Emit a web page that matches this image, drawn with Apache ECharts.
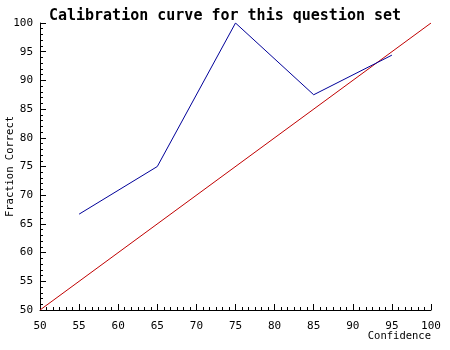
<!DOCTYPE html>
<html>
<head>
<meta charset="utf-8">
<script src="https://cdn.jsdelivr.net/npm/echarts@6/dist/echarts.min.js"></script>
<style>html,body{margin:0;padding:0;background:#fff}#c{width:450px;height:350px}</style>
</head>
<body>
<div id="c"></div>
<script>
const titleText = 'Calibration curve for this question set';
const xName = 'Confidence';
const yName = 'Fraction Correct';
const observedX = [55, 65, 75, 85, 95];
const observedY = [66.7, 75, 100, 87.5, 94.4];
const idealX = [50, 100];
const idealY = [50, 100];

const font = 'DejaVu Sans Mono';
const chart = echarts.init(document.getElementById('c'), null, {renderer: 'canvas'});
const axisCommon = {
  min: 50, max: 100, interval: 5,
  axisLine: {onZero: false, lineStyle: {color: '#000', width: 1}},
  axisTick: {inside: true, length: 6, lineStyle: {color: '#000'}},
  splitLine: {show: false},
  axisLabel: {color: '#000', fontFamily: font, fontSize: 11}
};
chart.setOption({
  animation: false,
  backgroundColor: '#fff',
  title: {
    text: titleText, left: 'center', top: 4,
    textStyle: {fontFamily: font, fontSize: 15, fontWeight: 'bold', color: '#000'}
  },
  grid: {left: 40, right: 19, top: 23, bottom: 40, containLabel: false, outerBoundsMode: 'none'},
  xAxis: Object.assign({}, axisCommon, {
    type: 'value',
    minorTick: {show: true, splitNumber: 6, length: 3, lineStyle: {color: '#000'}},
    axisLabel: Object.assign({}, axisCommon.axisLabel, {margin: 11}),
    name: xName, nameLocation: 'end', nameGap: 0, nameMoveOverlap: false,
    nameTextStyle: {fontFamily: font, fontSize: 10.5, color: '#000', align: 'right', verticalAlign: 'top', padding: [21, 0, 0, 0]}
  }),
  yAxis: Object.assign({}, axisCommon, {
    type: 'value',
    minorTick: {show: true, splitNumber: 5, length: 3, lineStyle: {color: '#000'}},
    axisLabel: Object.assign({}, axisCommon.axisLabel, {margin: 7}),
    name: yName, nameLocation: 'middle', nameGap: 24, nameRotate: 90, nameMoveOverlap: false,
    nameTextStyle: {fontFamily: font, fontSize: 10.5, color: '#000'}
  }),
  series: [
    {
      type: 'line', data: idealX.map((x, i) => [x, idealY[i]]),
      symbol: 'none', lineStyle: {color: '#c00000', width: 1}, z: 2
    },
    {
      type: 'line', data: observedX.map((x, i) => [x, observedY[i]]),
      symbol: 'none', lineStyle: {color: '#000099', width: 1}, z: 3
    }
  ]
});
</script>
</body>
</html>
